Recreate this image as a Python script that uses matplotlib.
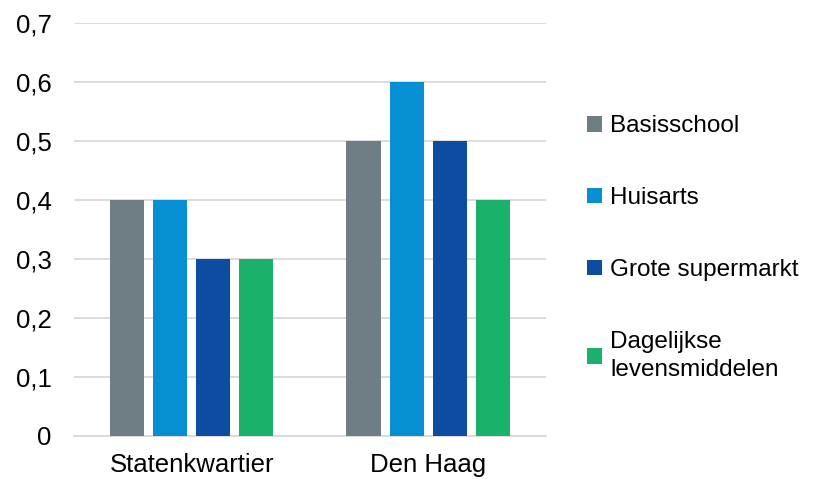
import numpy as np
from matplotlib import pyplot as plt

plt.rcParams['font.family'] = ['Liberation Sans', 'DejaVu Sans']

categories = ['Statenkwartier', 'Den Haag']
series = ['Basisschool', 'Huisarts', 'Grote supermarkt', 'Dagelijkse\nlevensmiddelen']
values = [
    [0.4, 0.5],
    [0.4, 0.6],
    [0.3, 0.5],
    [0.3, 0.4],
]
colors = ['#6F7D85', '#078FD3', '#0C4DA2', '#1AB26B']
yticks = [0, 0.1, 0.2, 0.3, 0.4, 0.5, 0.6, 0.7]
ytick_labels = ['0', '0,1', '0,2', '0,3', '0,4', '0,5', '0,6', '0,7']

fig = plt.figure(figsize=(8.19, 4.79), dpi=100)
ax = fig.add_axes([0.090, 0.090, 0.577, 0.862])

x = np.arange(len(categories))
step = 0.182
width = 0.145
for i, (name, vals, c) in enumerate(zip(series, values, colors)):
    ax.bar(x + (i - 1.5) * step, vals, width=width, color=c, label=name, zorder=3)

ax.set_xlim(-0.5, 1.5)
ax.set_ylim(0, 0.7)
ax.set_yticks(yticks)
ax.set_yticklabels(ytick_labels)
ax.set_xticks(x)
ax.set_xticklabels(categories)
ax.tick_params(axis='both', length=0, labelsize=18.5, colors='black')
ax.tick_params(axis='y', pad=16)
ax.tick_params(axis='x', pad=12)
ax.grid(axis='y', color='#D9D9D9', linewidth=1.3, zorder=0)
for s in ['top', 'right', 'left']:
    ax.spines[s].set_visible(False)
ax.spines['bottom'].set_color('#D9D9D9')
ax.spines['bottom'].set_linewidth(1.3)

leg = fig.legend(loc='center left', bbox_to_anchor=(0.690, 0.482), frameon=False,
                 fontsize=17.5, handlelength=0.6, handleheight=0.6, handletextpad=0.35,
                 labelspacing=2.05)
for t in leg.get_texts():
    t.set_linespacing(1.35)

plt.savefig('out.png', dpi=100)
